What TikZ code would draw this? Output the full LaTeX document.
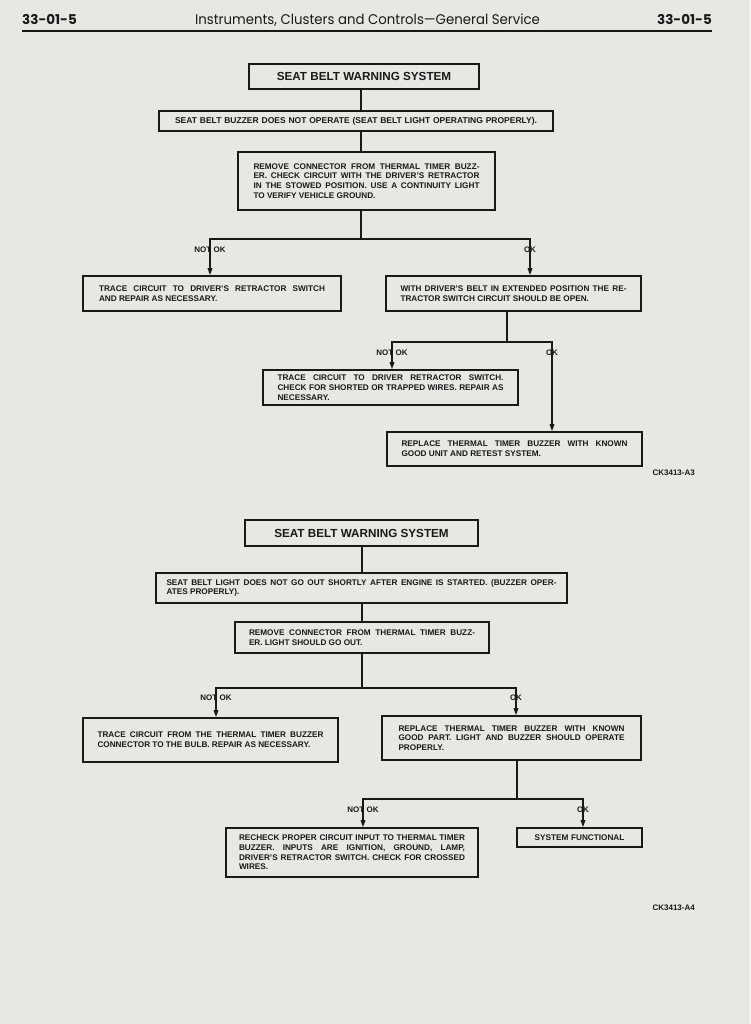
\documentclass[tikz,border=0pt]{standalone}
\usepackage{fontspec}
\setmainfont{Liberation Sans}
\newfontfamily\headfont[Ligatures=TeX]{Poppins}
\usetikzlibrary{arrows.meta}
\definecolor{paper}{RGB}{231,231,229}
\definecolor{ink}{RGB}{25,25,25}

\begin{document}
\begin{tikzpicture}[x=1pt,y=-1pt,
  box/.style={draw=ink,line width=1.6pt,inner sep=0pt,text=ink,
    font=\bfseries\fontsize{8.2}{9.7}\selectfont,align=justify,text width=226pt},
  headbox/.style={draw=ink,line width=1.6pt,inner sep=0pt,text=ink,
    font=\bfseries\fontsize{11.7}{14}\selectfont},
  lbl/.style={inner sep=0.6pt,text=ink,font=\bfseries\fontsize{8}{8}\selectfont},
  wire/.style={draw=ink,line width=1.3pt},
  arr/.style={wire,-{Triangle[length=7pt,width=4.6pt]}}]
\fill[paper] (0,0) rectangle (750,1024);
\useasboundingbox (0,0) rectangle (750,1024);

% Page head
\node[anchor=base west,inner sep=0pt,text=ink,font=\headfont\bfseries\fontsize{13.5}{13}\selectfont] (pgleft) at (22,25) {33-01-5};
\node[anchor=base east,inner sep=0pt,text=ink,font=\headfont\bfseries\fontsize{13.5}{13}\selectfont] (pgright) at (712,25) {33-01-5};
\node[anchor=base,inner sep=0pt,text=ink,font=\headfont\fontsize{14}{14}\selectfont] (headline) at (367.5,25) {\scalebox{0.95}[1]{Instruments, Clusters and Controls---General Service}};
\draw[ink,line width=2pt] (22,31.5) -- (712,31.5);

% Buzzer chart
\node[headbox,minimum width=230,minimum height=25] (title1) at (364,76.5) {SEAT BELT WARNING SYSTEM};
\node[box,align=center,text width=388pt,minimum width=394,minimum height=20,font=\bfseries\fontsize{8.5}{9.7}\selectfont] (buzz) at (356,121) {SEAT BELT BUZZER DOES NOT OPERATE (SEAT BELT LIGHT OPERATING PROPERLY).};
\node[box,minimum width=257,minimum height=58] (remove) at (366.5,181) {REMOVE CONNECTOR FROM THERMAL TIMER BUZZ-\linebreak ER. CHECK CIRCUIT WITH THE DRIVER'S RETRACTOR\linebreak IN THE STOWED POSITION. USE A CONTINUITY LIGHT\linebreak TO VERIFY VEHICLE GROUND.};
\node[box,minimum width=258,minimum height=35] (trace) at (212,293.5) {TRACE CIRCUIT TO DRIVER'S RETRACTOR SWITCH\linebreak AND REPAIR AS NECESSARY.};
\node[box,minimum width=255,minimum height=35] (extend) at (513.5,293.5) {WITH DRIVER'S BELT IN EXTENDED POSITION THE RE-\linebreak TRACTOR SWITCH CIRCUIT SHOULD BE OPEN.};
\node[box,minimum width=255,minimum height=35] (shorted) at (390.5,387.5) {TRACE CIRCUIT TO DRIVER RETRACTOR SWITCH.\linebreak CHECK FOR SHORTED OR TRAPPED WIRES. REPAIR AS\linebreak NECESSARY.};
\node[box,minimum width=255,minimum height=34] (unit) at (514.5,449) {REPLACE THERMAL TIMER BUZZER WITH KNOWN\linebreak GOOD UNIT AND RETEST SYSTEM.};

\coordinate (j1) at (361,239);
\coordinate (j2) at (507,342);
\draw[wire] (title1.south -| j1) -- (buzz.north -| j1);
\draw[wire] (buzz.south -| j1) -- (remove.north -| j1);
\draw[wire] (remove.south -| j1) -- (j1);
\draw[arr] (j1) -| ([xshift=-2pt]trace.north);
\draw[arr] (j1) -| ([xshift=16.5pt]extend.north);
\draw[wire] (extend.south -| j2) -- (j2);
\draw[arr] (j2) -| ([xshift=1.5pt]shorted.north);
\draw[arr] (j2) -| ([xshift=37.5pt]unit.north);

\node[lbl] (nok1) at (210,250) {NOT OK};
\node[lbl] (ok1) at (530,250) {OK};
\node[lbl] (nok2) at (392,353) {NOT OK};
\node[lbl] (ok2) at (552,353) {OK};
\node[anchor=base east,inner sep=0pt,text=ink,font=\bfseries\fontsize{8}{8}\selectfont] (figa3) at (695,475) {CK3413-A3};

% Light chart
\node[headbox,minimum width=233,minimum height=26] (title2) at (361.5,533) {SEAT BELT WARNING SYSTEM};
\node[box,text width=390pt,minimum width=411,minimum height=30] (light) at (361.5,588) {SEAT BELT LIGHT DOES NOT GO OUT SHORTLY AFTER ENGINE IS STARTED. (BUZZER OPER-\linebreak ATES PROPERLY).};
\node[box,minimum width=254,minimum height=31] (unplug) at (362,637.5) {REMOVE CONNECTOR FROM THERMAL TIMER BUZZ-\linebreak ER. LIGHT SHOULD GO OUT.};
\node[box,minimum width=255,minimum height=44] (bulb) at (210.5,740) {TRACE CIRCUIT FROM THE THERMAL TIMER BUZZER\linebreak CONNECTOR TO THE BULB. REPAIR AS NECESSARY.};
\node[box,minimum width=259,minimum height=44] (part) at (511.5,738) {REPLACE THERMAL TIMER BUZZER WITH KNOWN\linebreak GOOD PART. LIGHT AND BUZZER SHOULD OPERATE\linebreak PROPERLY.};
\node[box,minimum width=252,minimum height=49] (recheck) at (352,852.5) {RECHECK PROPER CIRCUIT INPUT TO THERMAL TIMER\linebreak BUZZER. INPUTS ARE IGNITION, GROUND, LAMP,\linebreak DRIVER'S RETRACTOR SWITCH. CHECK FOR CROSSED\linebreak WIRES.};
\node[box,align=center,text width=120pt,minimum width=125,minimum height=19] (works) at (579.5,837.5) {SYSTEM FUNCTIONAL};

\coordinate (j3) at (362,688);
\coordinate (j4) at (517,799);
\draw[wire] (title2.south -| j3) -- (light.north -| j3);
\draw[wire] (light.south -| j3) -- (unplug.north -| j3);
\draw[wire] (unplug.south -| j3) -- (j3);
\draw[arr] (j3) -| ([xshift=5.5pt]bulb.north);
\draw[arr] (j3) -| ([xshift=4.5pt]part.north);
\draw[wire] (part.south -| j4) -- (j4);
\draw[arr] (j4) -| ([xshift=11pt]recheck.north);
\draw[arr] (j4) -| ([xshift=3.5pt]works.north);

\node[lbl] (nok3) at (216,698) {NOT OK};
\node[lbl] (ok3) at (516,698) {OK};
\node[lbl] (nok4) at (363,810) {NOT OK};
\node[lbl] (ok4) at (583,810) {OK};
\node[anchor=base east,inner sep=0pt,text=ink,font=\bfseries\fontsize{8}{8}\selectfont] (figa4) at (695,910) {CK3413-A4};
\end{tikzpicture}
\end{document}
